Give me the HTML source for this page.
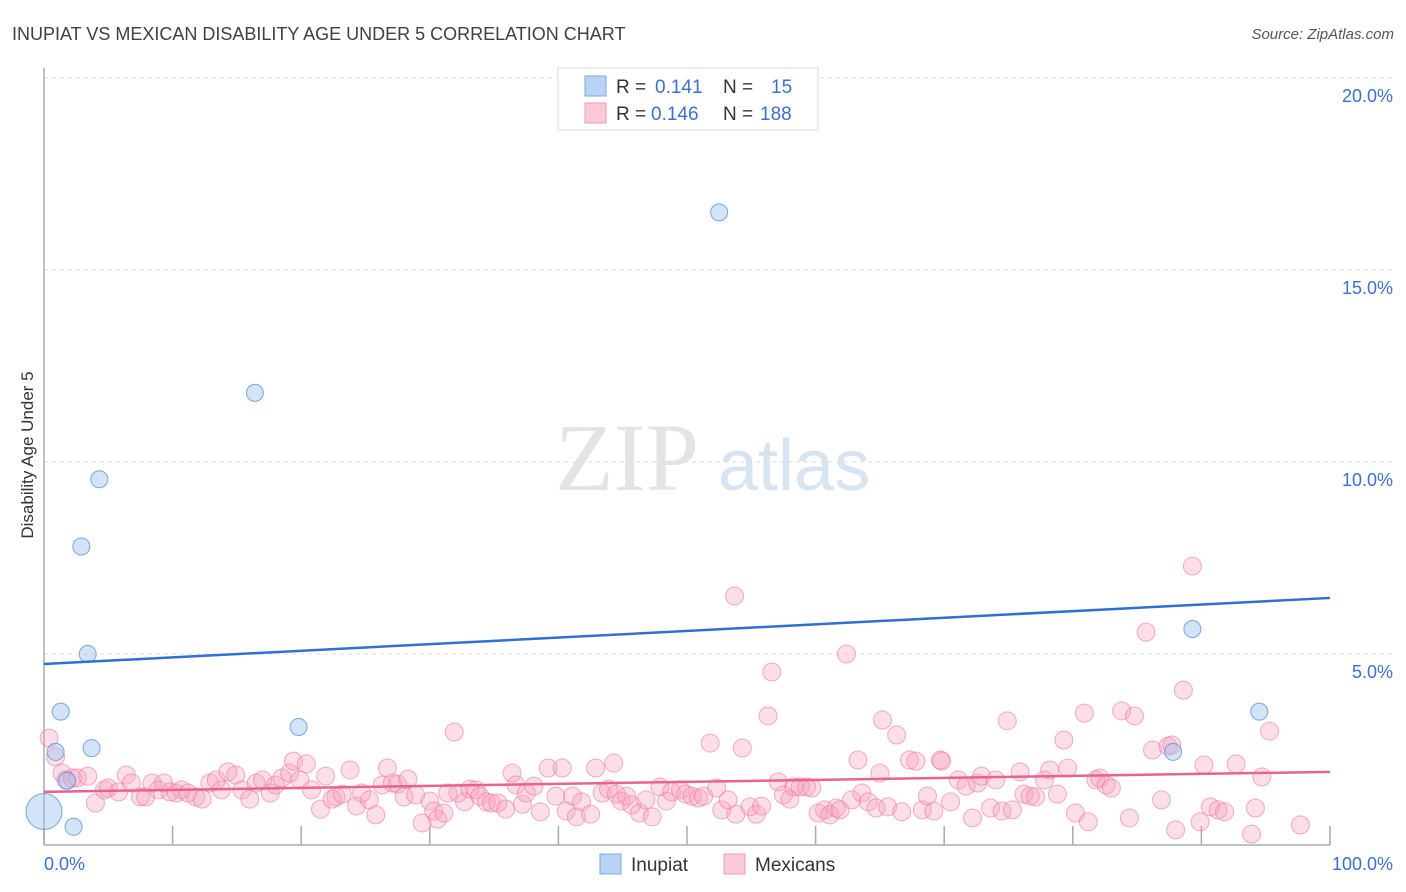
<!DOCTYPE html>
<html><head><meta charset="utf-8"><style>
body{margin:0;background:#fff;font-family:"Liberation Sans",sans-serif;}
svg{display:block}
</style></head><body>
<svg id="chart" width="1406" height="892">
<text x="12" y="40" font-size="18" fill="#404040">INUPIAT VS MEXICAN DISABILITY AGE UNDER 5 CORRELATION CHART</text>
<text x="1394" y="39" font-size="15" fill="#555" font-style="italic" text-anchor="end">Source: ZipAtlas.com</text>
<text transform="translate(33,455) rotate(-90)" font-size="17" fill="#333" text-anchor="middle">Disability Age Under 5</text>
<g><text x="555" y="490" font-family="Liberation Serif,serif" font-size="96" fill="#e4e4e4">ZIP</text><text x="718" y="490" font-size="72" fill="#d7e4f4">atlas</text></g>
<g id="grid"></g><g id="axes"></g><g id="pts"></g><g id="lines"></g>
<g>
<rect x="558" y="68" width="260" height="62" fill="#fff" stroke="#ddd"/>
<rect x="585" y="76" width="21" height="20" fill="#b8d3f5" stroke="#7aa8e6"/>
<rect x="585" y="103" width="21" height="20" fill="#fac8d6" stroke="#f09ab4"/>
<text x="616" y="93" font-size="19" fill="#333">R = </text><text x="655" y="93" font-size="19" fill="#3a70d0">0.141</text>
<text x="723" y="93" font-size="19" fill="#333">N = </text><text x="771" y="93" font-size="19" fill="#3a70d0">15</text>
<text x="616" y="120" font-size="19" fill="#333">R = </text><text x="651" y="120" font-size="19" fill="#3a70d0">0.146</text>
<text x="723" y="120" font-size="19" fill="#333">N = </text><text x="760" y="120" font-size="19" fill="#3a70d0">188</text>
</g>
<g>
<rect x="600" y="854" width="21" height="20" fill="#b8d3f5" stroke="#7aa8e6"/>
<text x="631" y="871" font-size="19" fill="#333">Inupiat</text>
<rect x="724" y="854" width="21" height="20" fill="#fac8d6" stroke="#f09ab4"/>
<text x="755" y="871" font-size="19" fill="#333">Mexicans</text>
</g>
</svg>
<script>
const yTicks=[5,10,15,20];
const yTickLabels=["5.0%","10.0%","15.0%","20.0%"];
const xTicks=[0,10,20,30,40,50,60,70,80,90,100];
const inupiatX=[0,0.9,1.3,1.8,2.3,2.9,3.4,3.7,4.3,16.4,19.8,52.5,87.8,89.3,94.5];
const inupiatY=[0.9,2.45,3.5,1.7,0.5,7.8,5.0,2.55,9.55,11.8,3.1,16.5,2.45,5.65,3.5];
const mexX=[0.4,0.9,1.4,1.7,2.2,2.6,3.4,4.0,4.7,5.0,5.8,6.4,6.8,7.5,7.9,8.4,8.9,9.3,9.8,10.3,10.7,11.2,11.8,12.3,12.9,13.4,13.8,14.3,14.9,15.4,16.0,16.5,17.0,17.6,18.0,18.5,19.1,19.4,19.9,20.4,20.8,21.5,21.9,22.4,22.7,23.2,23.8,24.3,24.7,25.3,25.8,26.3,26.7,27.1,27.5,28.0,28.3,28.9,29.4,30.0,30.3,30.6,31.1,31.4,31.9,32.2,32.7,33.1,33.6,33.9,34.4,34.8,35.3,35.9,36.4,36.7,37.2,37.5,38.1,38.6,39.2,39.8,40.3,40.6,41.1,41.4,41.8,42.5,42.9,43.4,43.9,44.3,44.5,44.9,45.3,45.7,46.3,46.8,47.3,47.9,48.4,48.8,49.5,49.9,50.4,50.9,51.3,51.8,52.3,52.7,53.2,53.7,53.8,54.3,54.9,55.4,55.8,56.3,56.6,57.1,57.5,58.0,58.3,58.8,59.3,59.7,60.2,60.7,61.1,61.6,61.9,62.4,62.8,63.3,63.6,64.1,64.7,65.0,65.2,65.6,66.3,66.7,67.3,67.8,68.3,68.7,69.2,69.7,69.8,70.5,71.1,71.7,72.2,72.6,72.9,73.6,74.0,74.5,74.9,75.3,75.9,76.2,76.7,77.1,77.8,78.2,78.8,79.3,79.6,80.2,80.9,81.2,81.8,82.1,82.6,83.0,83.8,84.4,84.8,85.7,86.2,86.9,87.4,87.7,88.0,88.6,89.3,89.9,90.2,90.7,91.3,91.8,92.7,93.9,94.2,94.7,95.3,97.7];
const mexY=[2.81,2.32,1.90,1.72,1.77,1.77,1.82,1.12,1.46,1.51,1.41,1.85,1.64,1.28,1.28,1.64,1.46,1.64,1.41,1.38,1.46,1.38,1.28,1.22,1.64,1.72,1.46,1.93,1.85,1.46,1.22,1.64,1.72,1.38,1.59,1.77,1.90,2.21,1.72,2.14,1.46,0.96,1.82,1.22,1.28,1.35,1.98,1.04,1.38,1.20,0.81,1.59,2.03,1.64,1.61,1.28,1.74,1.33,0.60,1.17,0.91,0.70,0.86,1.38,2.97,1.38,1.15,1.48,1.46,1.30,1.15,1.12,1.12,0.96,1.90,1.59,1.09,1.38,1.56,0.89,2.03,1.30,2.03,0.91,1.30,0.76,1.15,0.83,2.03,1.38,1.48,2.16,1.35,1.17,1.30,1.07,0.86,1.20,0.76,1.54,1.17,1.41,1.46,1.35,1.30,1.25,1.30,2.68,1.51,0.94,1.20,6.51,0.83,2.55,1.02,0.83,1.04,3.39,4.53,1.67,1.33,1.22,1.54,1.54,1.54,1.51,0.86,0.94,0.81,0.99,0.94,5.00,1.20,2.24,1.38,1.15,0.99,1.90,3.28,1.02,2.89,0.89,2.24,2.21,0.94,1.30,0.91,2.24,2.21,1.15,1.72,1.56,0.73,1.64,1.82,0.99,1.72,0.91,3.26,0.94,1.93,1.35,1.30,1.28,1.72,1.98,1.35,2.76,2.03,0.86,3.46,0.63,1.72,1.77,1.59,1.51,3.52,0.73,3.39,5.57,2.50,1.20,2.60,2.63,0.42,4.06,7.29,0.63,2.11,1.02,0.94,0.89,2.14,0.31,0.99,1.80,2.99,0.55];
const inupiatTrend=[4.74,6.46];
const mexTrend=[1.41,1.93];
const X=v=>44+v*12.86, Y=v=>846-v*38.4;
const NS="http://www.w3.org/2000/svg";
function mk(parent,tag,attrs){const e=document.createElementNS(NS,tag);for(const k in attrs)e.setAttribute(k,attrs[k]);document.getElementById(parent).appendChild(e);return e;}
yTicks.forEach((t,i)=>{
 const l=mk('grid','line',{x1:44,x2:1393,y1:Y(t),y2:Y(t),stroke:'#ddd','stroke-dasharray':'4,4'});
 
 
 const tx=mk('grid','text',{x:1393,y:Y(t)+24,'font-size':18,fill:'#3a70d0','text-anchor':'end'});
 tx.textContent=yTickLabels[i];
 
 
});
const ya=mk('axes','line',{x1:44,x2:44,y1:68,y2:845,stroke:'#aaa','stroke-width':1.5});


const xa=mk('axes','line',{x1:44,x2:1330,y1:845,y2:845,stroke:'#aaa','stroke-width':1.5});


xTicks.forEach(t=>{
 const k=mk('axes','line',{x1:X(t),x2:X(t),y1:826,y2:845,stroke:'#aaa','stroke-width':1.5});
 
 
});
const xl0=mk('axes','text',{x:44,y:870,'font-size':18,fill:'#3a70d0'});xl0.textContent='0.0%';


const xl1=mk('axes','text',{x:1393,y:870,'font-size':18,fill:'#3a70d0','text-anchor':'end'});xl1.textContent='100.0%';


mexX.forEach((x,i)=>{
 const c=mk('pts','circle',{cx:X(x),cy:Y(mexY[i]),r:9,fill:'rgba(246,160,188,0.35)',stroke:'rgba(236,120,160,0.6)','stroke-width':1});
 
 
});
inupiatX.forEach((x,i)=>{
 const c=mk('pts','circle',{cx:X(x),cy:Y(inupiatY[i]),r:i===0?18:8.5,fill:'rgba(160,196,240,0.45)',stroke:'rgba(80,140,220,0.75)','stroke-width':1});
 
 
});
const bl=mk('lines','line',{x1:X(0),x2:X(100),y1:Y(inupiatTrend[0]),y2:Y(inupiatTrend[1]),stroke:'#2f6fd6','stroke-width':2.5});


const pl=mk('lines','line',{x1:X(0),x2:X(100),y1:Y(mexTrend[0]),y2:Y(mexTrend[1]),stroke:'#e8638e','stroke-width':2.5});


</script>
</body></html>
